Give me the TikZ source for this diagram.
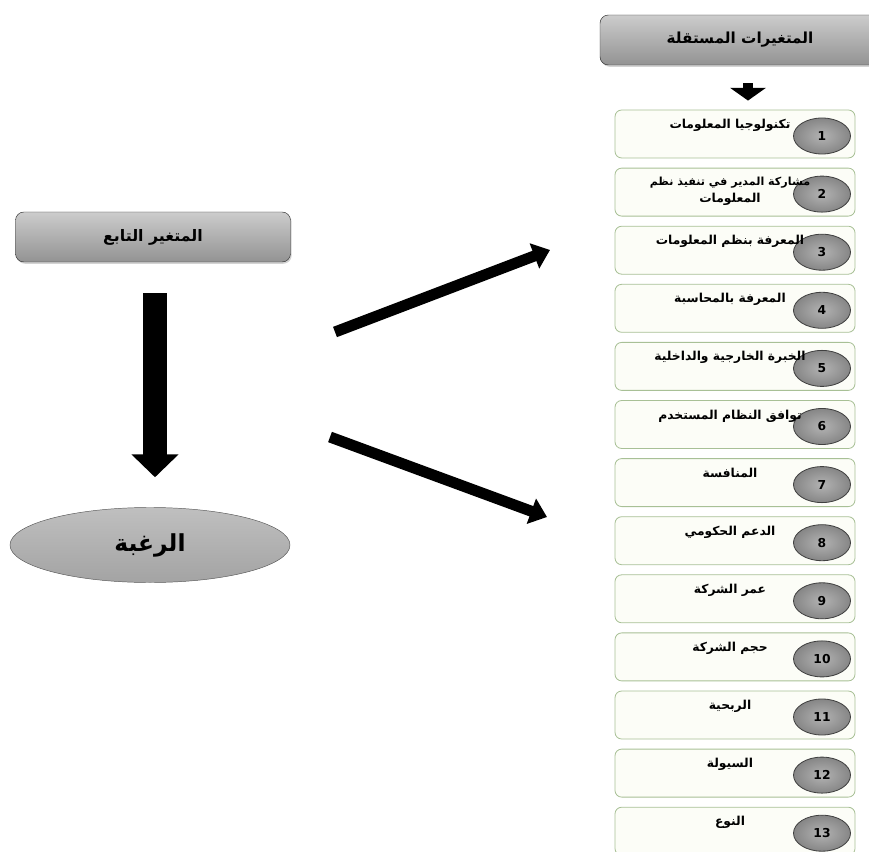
\documentclass[tikz,border=0pt]{standalone}
\usepackage{fontspec}
\usepackage{tikz}
\usetikzlibrary{positioning}
\usetikzlibrary{arrows.meta}
\usetikzlibrary{shapes.geometric}
\usetikzlibrary{shadows}
\TeXXeTstate=1
\newfontfamily\arabicfont[Script=Arabic]{DejaVu Sans}
\newcommand{\artxt}[1]{{\arabicfont\bfseries\beginR #1\endR}}
\definecolor{boxline}{RGB}{168,192,150}
\definecolor{boxfill}{RGB}{252,253,247}

\begin{document}
\begin{tikzpicture}[x=0.03cm, y=-0.03cm,
  headbox/.style={draw=black!80, rounded corners=0.25cm, top color=gray!40, bottom color=gray!85,
    drop shadow={opacity=0.35, shadow xshift=1pt, shadow yshift=-1.5pt}, minimum height=1.5cm, inner sep=0pt},
  itembox/.style={draw=boxline, fill=boxfill, line width=0.7pt, rounded corners=0.2cm,
    minimum width=7.2cm, minimum height=1.44cm},
  numoval/.style={ellipse, draw=black!75, line width=0.7pt, inner color=gray!60, outer color=gray!95,
    minimum width=1.71cm, minimum height=1.08cm, inner sep=0pt,
    font=\arabicfont\bfseries\fontsize{10.5}{12}\selectfont},
  itemtext/.style={inner sep=0pt, align=center, font=\fontsize{10.5}{14}\selectfont},
  fatarrow/.style={line width=0.33cm, -{Triangle[length=0.5cm, width=0.78cm]}}]
  \useasboundingbox (0,0) rectangle (869,852);

  % left side
  \node[headbox, minimum width=8.25cm] (dep) at (153,237) {\fontsize{13.5}{16}\selectfont\artxt{المتغير التابع}};
  \node[ellipse, draw=black!65, top color=gray!50, bottom color=gray!72, minimum width=8.4cm,
    minimum height=2.25cm] (want) at (150,545) {\fontsize{20}{24}\selectfont\artxt{الرغبة}};
  \draw[line width=0.72cm, -{Triangle[length=0.69cm, width=1.38cm]}, shorten <=0.93cm, shorten >=0.9cm]
    ([xshift=0.06cm]dep.south) -- ([xshift=0.15cm]want.north);

  % right side
  \node[headbox, minimum width=8.4cm] (indep) at (740,40) {\fontsize{13}{16}\selectfont\artxt{المتغيرات المستقلة}};

  \foreach \n/\txt in {1/{\artxt{تكنولوجيا المعلومات}},
      2/{\fontsize{9.5}{13}\selectfont\artxt{مشاركة المدير في تنفيذ نظم}\\\artxt{المعلومات}},
      3/{\artxt{المعرفة بنظم المعلومات}},
      4/{\artxt{المعرفة بالمحاسبة}},
      5/{\artxt{الخبرة الخارجية والداخلية}},
      6/{\artxt{توافق النظام المستخدم}},
      7/{\artxt{المنافسة}},
      8/{\artxt{الدعم الحكومي}},
      9/{\artxt{عمر الشركة}},
      10/{\artxt{حجم الشركة}},
      11/{\artxt{الربحية}},
      12/{\artxt{السيولة}},
      13/{\artxt{النوع}}} {
    \node[itembox] (box\n) at (735,{134+(\n-1)*58.1}) {};
    \node[numoval] (num\n) at (822,{136+(\n-1)*58.1}) {\n};
    \node[itemtext, anchor=north] (lbl\n) at ([xshift=-0.15cm, yshift=-0.28cm]box\n.north) {\txt};
  }

  \draw[line width=0.3cm, -{Triangle[length=0.38cm, width=1.05cm]}, shorten <=0.54cm, shorten >=0.27cm]
    ([xshift=0.24cm]indep.south) -- ([xshift=0.39cm]box1.north);

  % arrows between the two sides
  \coordinate (upS) at (335,332);
  \coordinate (upE) at (550,250);
  \coordinate (loS) at (330,437);
  \coordinate (loE) at (547,517);
  \draw[fatarrow] (upS) -- (upE);
  \draw[fatarrow] (loS) -- (loE);
\end{tikzpicture}
\end{document}
